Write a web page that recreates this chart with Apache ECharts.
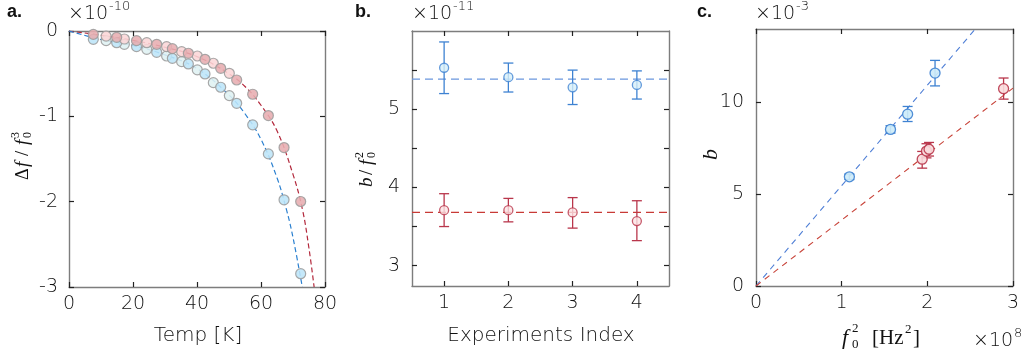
<!DOCTYPE html>
<html><head><meta charset="utf-8">
<script src="https://cdn.jsdelivr.net/npm/echarts@6/dist/echarts.min.js"></script>
<style>html,body{margin:0;padding:0;background:#fff}#c{width:1031px;height:360px}</style>
</head><body><div id="c"></div>
<script>
// ---------- Panel a data (units of 1e-10) ----------
const aTempDark  = [7.6, 14.9, 21.1, 27.4, 32.3, 37.3, 42.5, 47.4, 52.4, 57.4, 62.3, 67.2, 72.4];
const aRedDark   = [-0.04, -0.074, -0.113, -0.156, -0.207, -0.261, -0.332, -0.437, -0.574, -0.741, -0.991, -1.366, -1.998];
const aBlueDark  = [-0.098, -0.137, -0.183, -0.25, -0.32, -0.386, -0.503, -0.659, -0.847, -1.10, -1.44, -1.978, -2.844];
const aTempLight = [11.6, 17.3, 24.3, 30.5, 35.2, 40.1, 45.1, 50.1];
const aRedLight  = [-0.06, -0.094, -0.137, -0.183, -0.242, -0.293, -0.378, -0.496];
const aBlueLight = [-0.113, -0.156, -0.215, -0.293, -0.359, -0.456, -0.605, -0.757];
const aFitTempRed  = [0, 10, 20, 30, 40, 50, 55, 60, 65, 70, 73, 75, 76.6];
const aFitRed      = [0, -0.05, -0.11, -0.19, -0.3, -0.5, -0.65, -0.87, -1.17, -1.68, -2.1, -2.55, -3];
const aFitTempBlue = [0, 10, 20, 30, 40, 50, 55, 60, 65, 68, 70, 72.9];
const aFitBlue     = [0, -0.1, -0.17, -0.28, -0.44, -0.75, -0.97, -1.27, -1.72, -2.1, -2.42, -3];

// ---------- Panel b data (units of 1e-11) ----------
const bIndex   = [1, 2, 3, 4];
const bBlue    = [5.53, 5.41, 5.28, 5.31];
const bBlueLo  = [5.20, 5.22, 5.06, 5.13];
const bBlueHi  = [5.86, 5.59, 5.50, 5.49];
const bRed     = [3.71, 3.71, 3.68, 3.57];
const bRedLo   = [3.50, 3.56, 3.48, 3.32];
const bRedHi   = [3.92, 3.86, 3.87, 3.83];
const bBlueMean = 5.385;
const bRedMean  = 3.68;
const bYLabels = [3, 4, 5];
const bYTicks  = [3, 3.5, 4, 4.5, 5, 5.5];

// ---------- Panel c data (x in 1e8 Hz^2, y in 1e-3) ----------
const cBlueX  = [1.09, 1.57, 1.77, 2.09];
const cBlueY  = [5.95, 8.53, 9.36, 11.6];
const cBlueLo = [5.80, 8.33, 8.96, 10.9];
const cBlueHi = [6.10, 8.73, 9.78, 12.29];
const cRedX   = [1.94, 1.99, 2.02, 2.89];
const cRedY   = [6.91, 7.35, 7.45, 10.75];
const cRedLo  = [6.42, 6.98, 7.08, 10.18];
const cRedHi  = [7.33, 7.75, 7.82, 11.33];
const cFitBlueX = [0, 2.56];
const cFitBlueY = [0, 14];
const cFitRedX  = [0, 3];
const cFitRedY  = [0, 10.78];
const cYTicks = [0, 5, 10];

// ---------- styles ----------
const SANS = 'DejaVu Sans';
const SANSW = 200;
const SERIF = 'Liberation Serif';
const INK = '#111';
const TICKFONT = {fontFamily: SANS, fontWeight: SANSW, fontSize: 19, color: INK};
const AXLINE = {show: true, onZero: false, lineStyle: {color: '#7d7d7d', width: 1.4}};
const TICK = {show: true, inside: true, length: 5, lineStyle: {color: '#222', width: 1.2}};

const zip = (xs, ys) => xs.map((x, i) => [x, ys[i]]);
const zip3 = (xs, a, b) => xs.map((x, i) => [x, a[i], b[i]]);

function errSeries(xi, yi, data, color, cap) {
  return {
    type: 'custom', xAxisIndex: xi, yAxisIndex: yi, data: data, z: 3,
    renderItem: function (params, api) {
      const p1 = api.coord([api.value(0), api.value(1)]);
      const p2 = api.coord([api.value(0), api.value(2)]);
      const st = {stroke: color, lineWidth: 1.3};
      return {type: 'group', children: [
        {type: 'line', shape: {x1: p1[0], y1: p1[1], x2: p2[0], y2: p2[1]}, style: st},
        {type: 'line', shape: {x1: p1[0] - cap, y1: p1[1], x2: p1[0] + cap, y2: p1[1]}, style: st},
        {type: 'line', shape: {x1: p2[0] - cap, y1: p2[1], x2: p2[0] + cap, y2: p2[1]}, style: st}
      ]};
    }
  };
}

function axesPair(gi, type, opts, labelOpts) {
  const base = Object.assign({gridIndex: gi, type: 'value', axisLine: AXLINE, axisTick: TICK, splitLine: {show: false}}, opts);
  const prim = Object.assign({}, base, {position: type === 'x' ? 'bottom' : 'left',
    axisLabel: Object.assign({}, TICKFONT, labelOpts)});
  const mir = Object.assign({}, base, {position: type === 'x' ? 'top' : 'right', axisLabel: {show: false}});
  return [prim, mir];
}

const xAxes = [], yAxes = [];
xAxes.push(...axesPair(0, 'x', {min: 0, max: 80, interval: 20}, {margin: 8}));
yAxes.push(...axesPair(0, 'y', {min: -3, max: 0, interval: 1}, {margin: 11}));
xAxes.push(...axesPair(1, 'x', {min: 0.5, max: 4.5, axisTick: Object.assign({}, TICK, {customValues: bIndex})},
  {margin: 8, customValues: bIndex}));
yAxes.push(...axesPair(1, 'y', {min: 2.74, max: 6, axisTick: Object.assign({}, TICK, {customValues: bYTicks})},
  {margin: 12, customValues: bYLabels}));
xAxes.push(...axesPair(2, 'x', {min: 0, max: 3, interval: 1}, {margin: 8}));
yAxes.push(...axesPair(2, 'y', {min: 0, max: 14, axisTick: Object.assign({}, TICK, {customValues: cYTicks})},
  {margin: 12, customValues: cYTicks}));

const BORDER = '#9c9c9c';
function aScatter(data, fill) {
  return {type: 'scatter', xAxisIndex: 0, yAxisIndex: 0, data: data, symbolSize: 10, z: 4,
    itemStyle: {color: fill, borderColor: BORDER, borderWidth: 1.2, opacity: 0.88}};
}

const series = [
  {type: 'line', xAxisIndex: 0, yAxisIndex: 0, data: zip(aFitTempRed, aFitRed), smooth: 0.4, showSymbol: false, z: 2,
    lineStyle: {color: '#b3283c', width: 1.2, type: [5, 3]}},
  {type: 'line', xAxisIndex: 0, yAxisIndex: 0, data: zip(aFitTempBlue, aFitBlue), smooth: 0.4, showSymbol: false, z: 2,
    lineStyle: {color: '#2b80d0', width: 1.2, type: [5, 3]}},
  aScatter(zip(aTempLight, aBlueLight), '#dff1f3'),
  aScatter(zip(aTempDark, aBlueDark), '#bde5f8'),
  aScatter(zip(aTempLight, aRedLight), '#fbd6d7'),
  aScatter(zip(aTempDark, aRedDark), '#e7adb0'),
  {type: 'line', xAxisIndex: 2, yAxisIndex: 2, data: [[0.5, bBlueMean], [4.5, bBlueMean]], showSymbol: false, z: 2,
    lineStyle: {color: '#6b97de', width: 1.3, type: [8, 5]}},
  {type: 'line', xAxisIndex: 2, yAxisIndex: 2, data: [[0.5, bRedMean], [4.5, bRedMean]], showSymbol: false, z: 2,
    lineStyle: {color: '#c83a36', width: 1.3, type: [8, 5]}},
  errSeries(2, 2, zip3(bIndex, bBlueLo, bBlueHi), '#3e82d2', 5),
  errSeries(2, 2, zip3(bIndex, bRedLo, bRedHi), '#b9364b', 5),
  {type: 'scatter', xAxisIndex: 2, yAxisIndex: 2, data: zip(bIndex, bBlue), symbolSize: 9, z: 4,
    itemStyle: {color: '#d6eff9', borderColor: '#3e82d2', borderWidth: 1.3}},
  {type: 'scatter', xAxisIndex: 2, yAxisIndex: 2, data: zip(bIndex, bRed), symbolSize: 9, z: 4,
    itemStyle: {color: '#fbe2e3', borderColor: '#b9364b', borderWidth: 1.3}},
  {type: 'line', xAxisIndex: 4, yAxisIndex: 4, data: zip(cFitBlueX, cFitBlueY), showSymbol: false, z: 2,
    lineStyle: {color: '#4f7fd6', width: 1.1, type: [6, 5]}},
  {type: 'line', xAxisIndex: 4, yAxisIndex: 4, data: zip(cFitRedX, cFitRedY), showSymbol: false, z: 2,
    lineStyle: {color: '#c8443a', width: 1.1, type: [6, 5]}},
  errSeries(4, 4, zip3(cBlueX, cBlueLo, cBlueHi), '#3e82d2', 5),
  errSeries(4, 4, zip3(cRedX, cRedLo, cRedHi), '#b9364b', 5),
  {type: 'scatter', xAxisIndex: 4, yAxisIndex: 4, data: zip(cBlueX, cBlueY), symbolSize: 10, z: 4,
    itemStyle: {color: '#cdebf8', borderColor: '#3e82d2', borderWidth: 1.3, opacity: 0.9}},
  {type: 'scatter', xAxisIndex: 4, yAxisIndex: 4, data: zip(cRedX, cRedY), symbolSize: 10, z: 4,
    itemStyle: {color: '#f9dcdd', borderColor: '#b9364b', borderWidth: 1.3, opacity: 0.9}}
];

const mctx = document.createElement('canvas').getContext('2d');
function textW(str, font) { mctx.font = font; return mctx.measureText(str).width; }

function t(x, y, text, o) {
  return {type: 'text', x: x, y: y, silent: true,
    style: Object.assign({text: text, fill: INK, fontFamily: SANS, fontWeight: SANSW, fontSize: 19,
      align: 'left', verticalAlign: 'middle'}, o || {})};
}
function it(x, y, text, size) { return t(x, y, text, {fontFamily: SERIF, fontStyle: 'italic', fontWeight: 'normal', fontSize: size}); }
function rm(x, y, text, size) { return t(x, y, text, {fontFamily: SERIF, fontWeight: 'normal', fontSize: size}); }
function expo(x, y, exp) {
  const w = textW('×10', SANSW + ' 19px "' + SANS + '"');
  return [t(x, y, '×10', {fontSize: 19}), t(x + w + 1, y - 7, exp, {fontSize: 13})];
}

const graphics = [
  t(7, 12, 'a.', {fontFamily: 'Liberation Sans', fontWeight: 'bold', fontSize: 18}),
  t(355, 12, 'b.', {fontFamily: 'Liberation Sans', fontWeight: 'bold', fontSize: 18}),
  t(697, 12, 'c.', {fontFamily: 'Liberation Sans', fontWeight: 'bold', fontSize: 18}),
  ...expo(68, 14, '-10'),
  ...expo(412, 14, '-11'),
  ...expo(755, 14, '-3'),
  ...expo(973, 341, '8'),
  t(198, 336, 'Temp [K]', {fontSize: 20, align: 'center'}),
  t(541, 336, 'Experiments Index', {fontSize: 20, align: 'center'}),
  it(842, 338, 'f', 22), rm(852, 345, '0', 13), rm(852, 329, '2', 13),
  rm(872, 338, '[Hz', 21), rm(905, 330, '2', 13), rm(913, 338, ']', 21),
  {type: 'group', x: 23, y: 153, rotation: Math.PI / 2, children: [
    rm(-27, 0, 'Δ', 18), it(-14, 0, 'f', 19), rm(-3, 0, '/', 19), it(8, 0, 'f', 19),
    rm(15, 5, '0', 12), rm(15, -7, '3', 12)]},
  {type: 'group', x: 367, y: 167, rotation: Math.PI / 2, children: [
    it(-20, 0, 'b', 19), rm(-8, 0, '/', 19), it(2, 0, 'f', 19),
    rm(9, 5, '0', 12), rm(9, -7, '2', 12)]},
  {type: 'group', x: 711, y: 155, rotation: Math.PI / 2, children: [
    it(-5, 0, 'b', 22)]}
];

const chart = echarts.init(document.getElementById('c'), null, {renderer: 'canvas'});
chart.setOption({
  animation: false,
  backgroundColor: '#fff',
  grid: [
    {left: 69, top: 31, width: 256, height: 256},
    {left: 412, top: 31, width: 257, height: 255},
    {left: 756, top: 29, width: 257, height: 257}
  ],
  xAxis: xAxes,
  yAxis: yAxes,
  series: series,
  graphic: graphics
});
</script></body></html>
